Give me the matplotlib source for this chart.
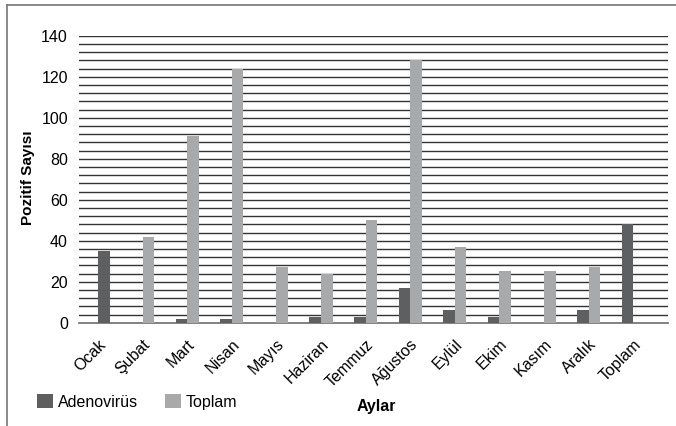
import matplotlib
matplotlib.use("Agg")
import matplotlib.pyplot as plt
from matplotlib.lines import Line2D
from matplotlib.patches import Patch
import numpy as np

plt.rcParams['font.family'] = ['Liberation Sans', 'DejaVu Sans']

months = ["Ocak", "Şubat", "Mart", "Nisan", "Mayıs", "Haziran", "Temmuz",
          "Ağustos", "Eylül", "Ekim", "Kasım", "Aralık", "Toplam"]
adenovirus = [0, 0, 2, 2, 0, 3, 3, 17, 6, 3, 0, 6, 48]
toplam = [35, 42, 91, 124, 27, 24, 50, 128, 37, 25, 25, 27, 0]

dark = "#5e5f61"
light = "#a8a9ab"
# the January bar in the second series is shaded like the first series
toplam_colors = [dark] + [light] * (len(months) - 1)

W, H = 676, 426
fig = plt.figure(figsize=(W / 100, H / 100), dpi=100)

ax_left, ax_right, ax_top, ax_bottom = 79, 668, 35.7, 322.7
ax = fig.add_axes([ax_left / W, 1 - ax_bottom / H,
                   (ax_right - ax_left) / W, (ax_bottom - ax_top) / H])

x = np.arange(len(months))
bw = 0.262
ax.bar(x - bw / 2, adenovirus, width=bw, color=dark, zorder=3)
ax.bar(x + bw / 2, toplam, width=bw, color=toplam_colors, zorder=3)

fs = 11.5
ax.set_xlim(-0.426, 12.78)
ax.set_ylim(0, 140)
ax.set_yticks(np.arange(0, 141, 20))
ax.set_yticks(np.arange(0, 141, 4), minor=True)
ax.yaxis.grid(True, which='both', color='#333333', linewidth=1.0, zorder=0)
ax.xaxis.grid(False)
ax.tick_params(axis='y', which='both', length=0, labelsize=fs, pad=8)
ax.tick_params(axis='x', length=0, pad=10)
ax.set_xticks(x)
ax.set_xticklabels(months, rotation=45, ha='right', rotation_mode='anchor',
                   fontsize=fs)
for s in ['top', 'right', 'left']:
    ax.spines[s].set_visible(False)
ax.spines['bottom'].set_color('#7a7a7a')
ax.spines['bottom'].set_linewidth(1.3)
ax.set_axisbelow(True)

fig.text(28 / W, 1 - 178 / H, "Pozitif Sayısı", rotation=90, ha='center',
         va='center', fontsize=11, fontweight='bold')
fig.text(376 / W, 1 - 407 / H, "Aylar", ha='center', va='center',
         fontsize=11.5, fontweight='bold')

handles = [Patch(facecolor=dark, edgecolor='none'),
           Patch(facecolor=light, edgecolor='none')]
fig.legend(handles, ["Adenovirüs", "Toplam"], loc='center left',
           bbox_to_anchor=(37 / W, 1 - 402 / H), ncol=2, frameon=False,
           fontsize=fs, handlelength=1.0, handleheight=1.0,
           handletextpad=0.3, columnspacing=1.7, borderaxespad=0,
           borderpad=0)

# outer chart frame (left and top edges)
fig.add_artist(Line2D([7 / W, 7 / W], [0, 1 - 5 / H], transform=fig.transFigure,
                      color='#808080', linewidth=1.3))
fig.add_artist(Line2D([7 / W, 1], [1 - 5 / H, 1 - 5 / H], transform=fig.transFigure,
                      color='#808080', linewidth=1.3))

fig.savefig("out.png", dpi=100)
